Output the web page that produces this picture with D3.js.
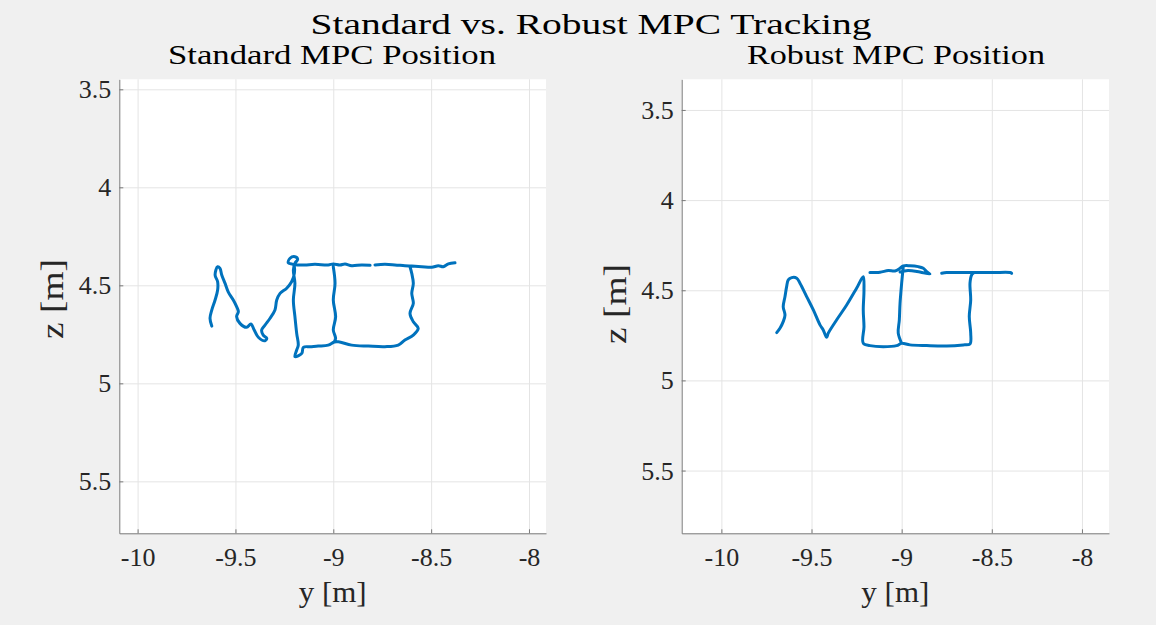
<!DOCTYPE html>
<html>
<head>
<meta charset="utf-8">
<script src="https://cdn.jsdelivr.net/npm/d3@7"></script>
<style>
  body { margin: 0; background: #f0f0f0; }
  svg { display: block; }
</style>
</head>
<body>
<div id="vis"></div>
<script>
// Frame
const FRAME_WIDTH = 1156;
const FRAME_HEIGHT = 625;

// Tick values shared by both panels
const Y_TICKS = [-10, -9.5, -9, -8.5, -8];
const Z_TICKS = [3.5, 4, 4.5, 5, 5.5];

// Standard MPC trajectory (NaN separates strokes)
const STD_Y = [
  -9.621, -9.630, -9.621, -9.604, -9.591, -9.591, -9.604, -9.591, -9.579, -9.570,
  -9.553, -9.537, -9.511, -9.494, -9.485, -9.494, -9.477, -9.443, -9.421, -9.404,
  -9.383, -9.349, -9.340, -9.358, -9.366, -9.349, -9.323, -9.298, -9.289, -9.272,
  -9.238, -9.213, -9.199, -9.202, -9.230, -9.221, -9.196, -9.182, -9.196, -9.204,
  -9.196, -9.204, -9.196, -9.187, -9.179, -9.187, -9.196, -9.161, -9.153, -9.119,
  -9.077, -9.026, -8.995, -8.974, -8.906, -8.821, -8.736, -8.668, -8.634, -8.591,
  -8.566, -8.591, -8.608, -8.591, -8.599, -8.591, -8.599, -8.608,
  NaN,
  -9.187, -9.145, -9.094, -9.026, -9.000, -8.966, -8.940, -8.906, -8.855, -8.812,
  NaN,
  -8.787, -8.736, -8.685, -8.634, -8.599, -8.548, -8.497, -8.463, -8.438, -8.412, -8.378,
  NaN,
  -9.000, -8.991, -9.000, -8.988, -9.000, -8.988, -8.995
];
const STD_Z = [
  4.708, 4.668, 4.626, 4.575, 4.524, 4.482, 4.447, 4.405, 4.413, 4.447,
  4.490, 4.533, 4.575, 4.609, 4.635, 4.660, 4.694, 4.714, 4.697, 4.728,
  4.765, 4.783, 4.770, 4.754, 4.728, 4.703, 4.668, 4.626, 4.575, 4.541,
  4.515, 4.482, 4.439, 4.396, 4.385, 4.362, 4.354, 4.367, 4.388, 4.422,
  4.490, 4.575, 4.660, 4.745, 4.805, 4.830, 4.864, 4.847, 4.816, 4.813,
  4.810, 4.805, 4.789, 4.788, 4.805, 4.810, 4.813, 4.805, 4.779, 4.754,
  4.719, 4.686, 4.643, 4.592, 4.541, 4.490, 4.439, 4.405,
  NaN,
  4.396, 4.396, 4.393, 4.396, 4.391, 4.396, 4.391, 4.400, 4.396, 4.398,
  NaN,
  4.396, 4.393, 4.396, 4.400, 4.402, 4.405, 4.408, 4.400, 4.405, 4.391, 4.385,
  NaN,
  4.405, 4.490, 4.575, 4.660, 4.728, 4.770, 4.788
];

// Robust MPC trajectory (NaN separates strokes)
const ROB_Y = [
  -9.693, -9.675, -9.657, -9.647, -9.657, -9.647, -9.638, -9.629, -9.610, -9.582,
  -9.564, -9.527, -9.490, -9.453, -9.435, -9.416, -9.407, -9.361, -9.305, -9.250,
  -9.213, -9.209, -9.213, -9.209, -9.213, -9.176, -9.102, -9.028, -9.000, -8.954,
  -8.861, -8.750, -8.658, -8.621, -8.617, -8.625, -8.617, -8.621, -8.612, -8.603,
  NaN,
  -9.176, -9.120, -9.074, -9.037, -9.009, -8.991, -8.954, -8.908, -8.880, -8.861,
  -8.843, -8.899, -8.965, -9.009,
  NaN,
  -8.778, -8.750, -8.677, -8.603, -8.492, -8.399, -8.390,
  NaN,
  -8.991, -9.000, -9.009, -9.013, -9.019, -9.000
];
const ROB_Z = [
  4.735, 4.711, 4.674, 4.637, 4.591, 4.535, 4.480, 4.443, 4.430, 4.433,
  4.461, 4.535, 4.609, 4.692, 4.720, 4.761, 4.738, 4.665, 4.582, 4.489,
  4.425, 4.498, 4.609, 4.702, 4.794, 4.807, 4.813, 4.807, 4.794, 4.803,
  4.807, 4.809, 4.803, 4.798, 4.738, 4.646, 4.554, 4.461, 4.415, 4.406,
  NaN,
  4.402, 4.400, 4.391, 4.393, 4.378, 4.365, 4.364, 4.369, 4.378, 4.397,
  4.410, 4.399, 4.390, 4.399,
  NaN,
  4.406, 4.402, 4.402, 4.402, 4.402, 4.402, 4.406,
  NaN,
  4.369, 4.461, 4.572, 4.665, 4.738, 4.794
];

const FONT = "'Liberation Serif', 'Times New Roman', serif";
const LINE_COLOR = "#0072BD";

const SVG = d3.select("#vis")
  .append("svg")
    .attr("width", FRAME_WIDTH)
    .attr("height", FRAME_HEIGHT);

SVG.append("rect")
  .attr("width", FRAME_WIDTH)
  .attr("height", FRAME_HEIGHT)
  .attr("fill", "#f0f0f0");

// Overall title
SVG.append("text")
  .attr("x", 591)
  .attr("y", 34)
  .attr("text-anchor", "middle")
  .attr("font-family", FONT)
  .attr("font-size", "30px")
  .attr("textLength", 561)
  .attr("lengthAdjust", "spacingAndGlyphs")
  .attr("fill", "#000")
  .text("Standard vs. Robust MPC Tracking");

function drawPanel(p) {
  const w = p.x1 - p.x0;
  const h = p.y1 - p.y0;

  const X_SCALE = d3.scaleLinear().domain(p.yLim).range([0, w]);
  const Z_SCALE = d3.scaleLinear().domain(p.zLim).range([0, h]); // z grows downward

  const g = SVG.append("g")
    .attr("transform", "translate(" + p.x0 + "," + p.y0 + ")");

  g.append("rect")
    .attr("width", w)
    .attr("height", h)
    .attr("fill", "#fff");

  // grid
  g.append("g")
    .attr("transform", "translate(0," + h + ")")
    .call(d3.axisBottom(X_SCALE).tickValues(Y_TICKS).tickSize(h).tickSizeOuter(0).tickFormat(""))
    .call(s => s.select(".domain").remove())
    .call(s => s.selectAll("line").attr("stroke", "#e4e4e4").attr("y2", -h));
  g.append("g")
    .call(d3.axisLeft(Z_SCALE).tickValues(Z_TICKS).tickSize(-w).tickSizeOuter(0).tickFormat(""))
    .call(s => s.select(".domain").remove())
    .call(s => s.selectAll("line").attr("stroke", "#e4e4e4"));

  // trajectory
  const pts = p.ys.map((d, i) => [d, p.zs[i]]);
  const line = d3.line()
    .defined(d => !isNaN(d[0]) && !isNaN(d[1]))
    .x(d => X_SCALE(d[0]))
    .y(d => Z_SCALE(d[1]))
    .curve(d3.curveCatmullRom.alpha(0.5));
  g.append("path")
    .datum(pts)
    .attr("fill", "none")
    .attr("stroke", LINE_COLOR)
    .attr("stroke-width", 3)
    .attr("stroke-linejoin", "round")
    .attr("stroke-linecap", "round")
    .attr("d", line);

  // axes
  const xAxis = g.append("g")
    .attr("transform", "translate(0," + h + ")")
    .call(d3.axisBottom(X_SCALE).tickValues(Y_TICKS).tickSizeInner(-4).tickSizeOuter(0)
      .tickPadding(0).tickFormat(d => String(d)));
  xAxis.selectAll("text")
    .attr("y", 33).attr("dy", null)
    .attr("font-family", FONT).attr("font-size", "26px").attr("fill", "#262626");

  const zAxis = g.append("g")
    .call(d3.axisLeft(Z_SCALE).tickValues(Z_TICKS).tickSizeInner(-4).tickSizeOuter(0)
      .tickPadding(8).tickFormat(d => String(d)));
  zAxis.selectAll("text")
    .attr("dy", "0.33em")
    .attr("font-family", FONT).attr("font-size", "26px").attr("fill", "#262626");

  [xAxis, zAxis].forEach(a => {
    a.select(".domain").attr("stroke", "#7a7a7a");
    a.selectAll(".tick line").attr("stroke", "#7a7a7a");
  });

  // subplot title
  SVG.append("text")
    .attr("x", p.titleX)
    .attr("y", 63.5)
    .attr("text-anchor", "middle")
    .attr("font-family", FONT)
    .attr("font-size", "28px")
    .attr("textLength", p.titleW)
    .attr("lengthAdjust", "spacingAndGlyphs")
    .attr("fill", "#000")
    .text(p.title);

  // axis labels
  SVG.append("text")
    .attr("x", (p.x0 + p.x1) / 2)
    .attr("y", 602)
    .attr("text-anchor", "middle")
    .attr("font-family", FONT)
    .attr("font-size", "30px")
    .attr("textLength", 68)
    .attr("lengthAdjust", "spacingAndGlyphs")
    .attr("fill", "#262626")
    .text("y [m]");

  SVG.append("text")
    .attr("transform", "translate(" + p.zLabelX + "," + p.zLabelY + ") rotate(-90)")
    .attr("text-anchor", "middle")
    .attr("font-family", FONT)
    .attr("font-size", "31px")
    .attr("textLength", 80)
    .attr("lengthAdjust", "spacingAndGlyphs")
    .attr("fill", "#262626")
    .text("z [m]");
}

drawPanel({
  x0: 119.3, x1: 546, y0: 79.3, y1: 533.3,
  yLim: [-10.0935, -7.913], zLim: [3.449, 5.765],
  ys: STD_Y, zs: STD_Z,
  title: "Standard MPC Position", titleX: 332, titleW: 328,
  zLabelX: 63, zLabelY: 299
});

drawPanel({
  x0: 681.7, x1: 1109, y0: 79.3, y1: 533.3,
  yLim: [-10.22, -7.85], zLim: [3.33, 5.848],
  ys: ROB_Y, zs: ROB_Z,
  title: "Robust MPC Position", titleX: 896, titleW: 298,
  zLabelX: 626, zLabelY: 304
});
</script>
</body>
</html>
